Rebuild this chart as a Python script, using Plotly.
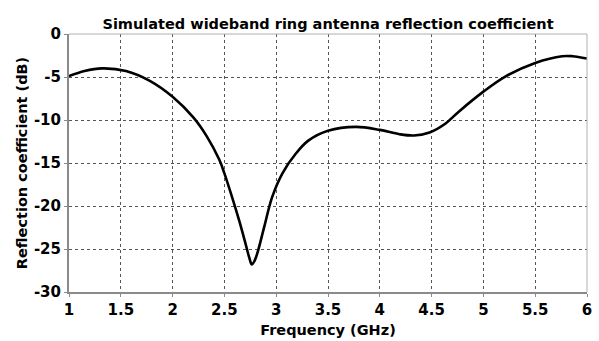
import plotly.graph_objects as go

# Simulated S11 of the wideband ring antenna
freq_ghz = [1.0, 1.15, 1.32, 1.55, 1.78, 2.0, 2.2, 2.33, 2.45, 2.5, 2.58, 2.645, 2.7, 2.74,
            2.765, 2.79, 2.82, 2.885, 2.96, 3.06, 3.19, 3.31, 3.5, 3.77, 4.0, 4.19, 4.33,
            4.48, 4.635, 4.765, 5.0, 5.215, 5.5, 5.76, 5.86, 6.0]
s11_db = [-4.9, -4.3, -4.0, -4.3, -5.45, -7.3, -9.7, -11.9, -14.6, -16.2, -19.2, -21.8, -24.2, -26.0,
          -26.8, -26.4, -25.4, -22.4, -19.0, -16.2, -13.9, -12.4, -11.25, -10.8, -11.15, -11.65, -11.8,
          -11.45, -10.4, -9.0, -6.7, -4.92, -3.36, -2.58, -2.58, -2.85]

x_ticks = [1, 1.5, 2, 2.5, 3, 3.5, 4, 4.5, 5, 5.5, 6]
y_ticks = [0, -5, -10, -15, -20, -25, -30]

FONT = "DejaVu Sans"

fig = go.Figure()
fig.add_trace(go.Scatter(
    x=freq_ghz, y=s11_db, mode="lines",
    line=dict(color="black", width=2.6, shape="spline", smoothing=1.0),
    showlegend=False, hoverinfo="skip",
))

axis_common = dict(
    showgrid=True, gridcolor="#555555", griddash="dot", gridwidth=1,
    zeroline=False, ticks="outside", ticklen=3, tickcolor="#8a8a8a", tickwidth=1,
    showline=True, linecolor="#8a8a8a", linewidth=2, mirror=False, automargin=False,
    tickfont=dict(family=FONT, size=15, color="black", weight="bold"),
)

fig.update_layout(
    width=599, height=341,
    margin=dict(l=69, r=12, t=34, b=49, autoexpand=False),
    paper_bgcolor="white", plot_bgcolor="white",
    title=dict(text="<b>Simulated wideband ring antenna reflection coefficient</b>",
               x=0.5, xref="paper", xanchor="center", y=0.945, yref="container",
               font=dict(family=FONT, size=14.5, color="black")),
    xaxis=dict(range=[1, 6], tickvals=x_ticks, ticktext=[f"{v:g}" for v in x_ticks],
               title=dict(text="<b>Frequency (GHz)</b>", standoff=7,
                          font=dict(family=FONT, size=14.5, color="black")),
               **axis_common),
    yaxis=dict(range=[-30, 0], tickvals=y_ticks, ticktext=[f"{v:g}" for v in y_ticks],
               title=dict(text="<b>Reflection coefficient (dB)</b>", standoff=3,
                          font=dict(family=FONT, size=14.5, color="black")),
               **axis_common),
)

# light frame on the top and right edges of the plot area
fig.add_shape(type="line", xref="paper", yref="paper", x0=0, x1=1, y0=1, y1=1,
              line=dict(color="#b0b0b0", width=1))
fig.add_shape(type="line", xref="paper", yref="paper", x0=1, x1=1, y0=0, y1=1,
              line=dict(color="#b0b0b0", width=1))

fig.write_html("out.html")
